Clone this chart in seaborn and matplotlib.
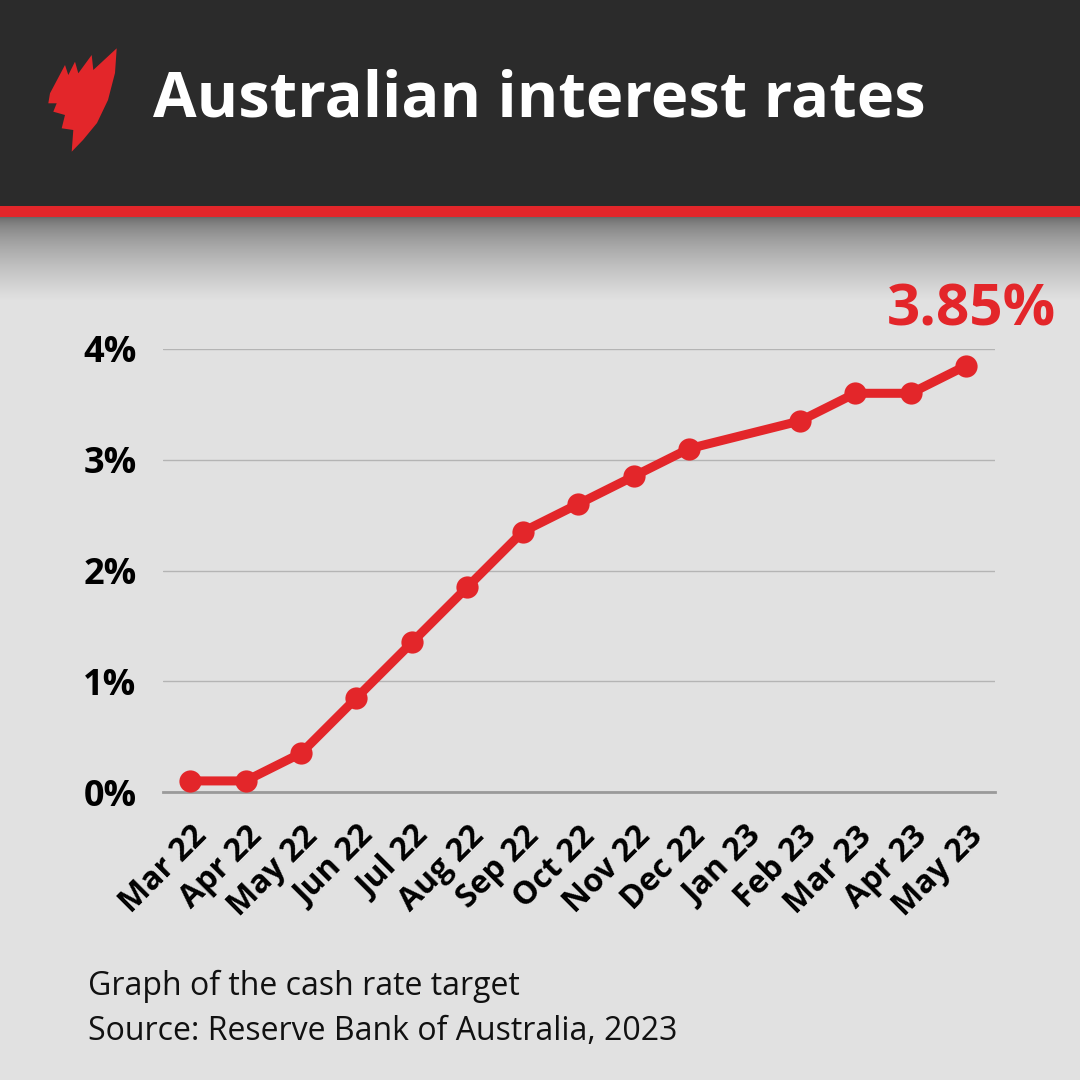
import numpy as np
import pandas as pd
import matplotlib
matplotlib.use("Agg")
import matplotlib.pyplot as plt
from matplotlib.patches import Polygon, Rectangle
import seaborn as sns

# ---- data ----
months = ["Mar 22", "Apr 22", "May 22", "Jun 22", "Jul 22", "Aug 22", "Sep 22",
          "Oct 22", "Nov 22", "Dec 22", "Jan 23", "Feb 23", "Mar 23", "Apr 23", "May 23"]
rates = [0.10, 0.10, 0.35, 0.85, 1.35, 1.85, 2.35,
         2.60, 2.85, 3.10, np.nan, 3.35, 3.60, 3.60, 3.85]
y_ticks = [0, 1, 2, 3, 4]
y_tick_labels = ["0%", "1%", "2%", "3%", "4%"]
title = "Australian interest rates"
callout = "3.85%"
footer_lines = ["Graph of the cash rate target", "Source: Reserve Bank of Australia, 2023"]

RED = "#e3262a"
BG = "#e1e1e1"
DARK = "#2b2b2b"

sns.set_theme(style="white")
plt.rcParams["font.family"] = ["Open Sans", "DejaVu Sans"]

W = H = 1080
fig = plt.figure(figsize=(10.8, 10.8), dpi=100)
fig.patch.set_facecolor(BG)

# ---- background / header decoration ----
bg = fig.add_axes([0, 0, 1, 1], zorder=0)
bg.axis("off")
bg.add_patch(Rectangle((0, 0), W, 206, color=DARK, lw=0))
bg.add_patch(Rectangle((0, 206), W, 11, color=RED, lw=0))
grad = np.linspace(0, 1, 256).reshape(-1, 1)
top_c = np.array([0.40, 0.40, 0.40])
bot_c = np.array(matplotlib.colors.to_rgb(BG))
img = top_c + (bot_c - top_c) * (grad ** 0.6)
bg.imshow(img.reshape(256, 1, 3), extent=(0, W, 300, 217), aspect="auto", zorder=1)
bg.set_xlim(0, W)
bg.set_ylim(H, 0)

# logo (decorative)
logo = [(116.7, 48.3), (115, 73), (108, 100), (97, 123), (83, 140), (71.7, 151.7),
        (73.3, 130), (61.7, 128.3), (65, 115), (53.3, 111.7), (56.7, 103.3),
        (48.3, 103.3), (50, 93.3), (65, 65), (68.3, 75), (75, 61.7), (78.3, 73.3),
        (91.7, 55), (93.3, 70)]
bg.add_patch(Polygon(logo, closed=True, color=RED, lw=0, zorder=3))

bg.text(153, 100, title, color="white", fontsize=45.5, fontweight="bold",
        ha="left", va="center", zorder=3)

for i, line in enumerate(footer_lines):
    bg.text(88, 986 + i * 45, line, color="#111111", fontsize=23,
            ha="left", va="center", zorder=3)

# ---- main chart ----
ax = fig.add_axes([163 / W, 1 - 792 / H, (995 - 163) / W, (792 - 349) / H], zorder=2)
ax.set_facecolor("none")
df = pd.DataFrame({"pos": np.arange(len(months)), "month": months, "rate": rates}).dropna()
sns.lineplot(data=df, x="pos", y="rate", ax=ax, color=RED, linewidth=6.5,
             marker="o", markersize=16, markeredgewidth=0, clip_on=False, zorder=5)

ax.set_xlim(-0.49, 14.52)
ax.set_ylim(0, 4.0)
ax.set_yticks(y_ticks)
ax.set_yticklabels(y_tick_labels, fontsize=26, fontweight="bold", color="black")
ax.set_xticks(np.arange(len(months)))
ax.set_xticklabels(months, fontsize=23, fontweight="bold", color="black",
                   rotation=45, ha="right", rotation_mode="anchor")
ax.tick_params(axis="both", length=0)
ax.tick_params(axis="y", pad=19)
ax.tick_params(axis="x", pad=20)
for s in ["top", "right", "left"]:
    ax.spines[s].set_visible(False)
ax.spines["bottom"].set_color("#9a9a9a")
ax.spines["bottom"].set_linewidth(2)
ax.grid(axis="y", color="#b4b4b4", linewidth=1)
ax.grid(axis="x", visible=False)
ax.set_xlabel("")
ax.set_ylabel("")

last = df.iloc[-1]
ax.annotate(callout, xy=(last["pos"], last["rate"]), xytext=(3.6, 40),
            textcoords="offset points", ha="center", va="center",
            color=RED, fontsize=42, fontweight="bold", annotation_clip=False)

fig.savefig("out.png", dpi=100, facecolor=BG)
